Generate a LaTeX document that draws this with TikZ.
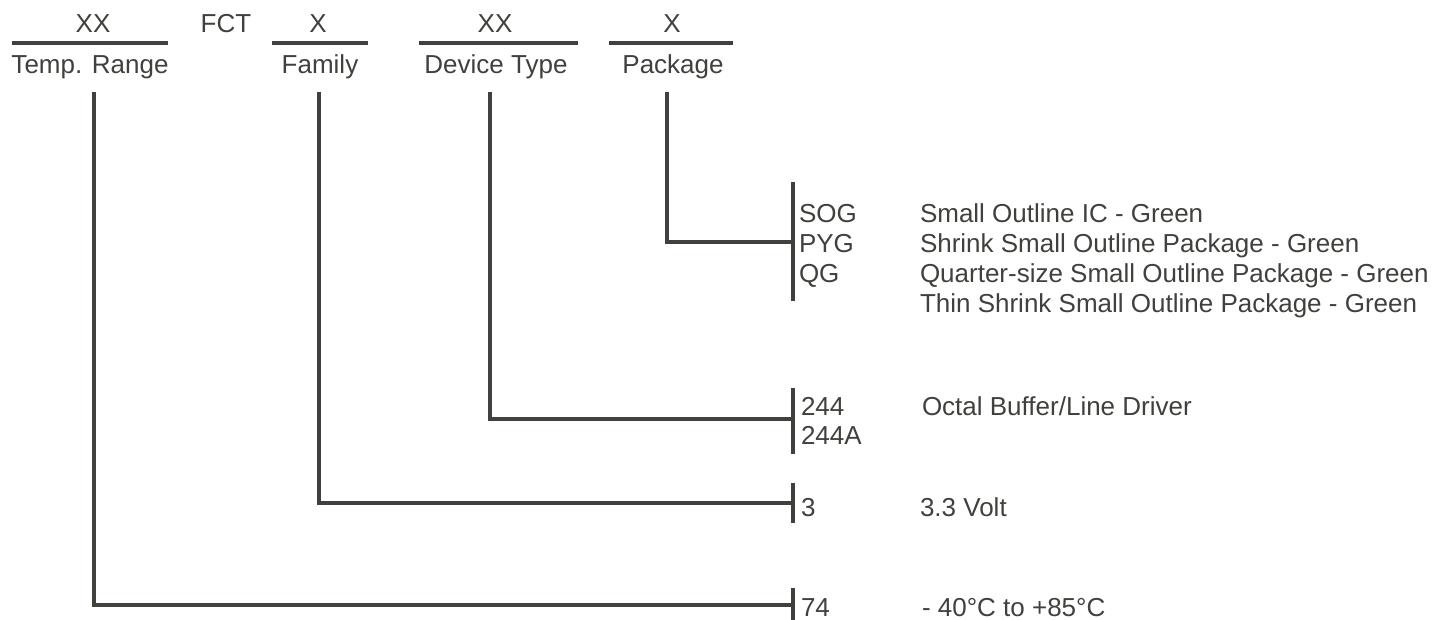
\documentclass[tikz,border=0pt]{standalone}
\usepackage{fontspec}
\setmainfont{Liberation Sans}
\definecolor{ink}{RGB}{64,64,60}
\begin{document}
\begin{tikzpicture}[x=1pt,y=-1pt,
  every node/.style={inner sep=0pt, outer sep=0pt, text=ink, font=\fontsize{26}{30}\selectfont},
  rule/.style={draw=ink, line width=3.3pt, line join=miter},
  lbl/.style={anchor=base},
  code/.style={anchor=base west}]
\useasboundingbox (0,0) rectangle (1432,619);
% top labels
\node[lbl] (xx1) at (93,32) {XX};
\node[lbl] (tr) at (90,73) {Temp. Range};
\node[lbl] (fct) at (226,32) {FCT};
\node[lbl] (x1) at (318,32) {X};
\node[lbl] (fam) at (320,73) {Family};
\node[lbl] (xx2) at (495,32) {XX};
\node[lbl] (dt) at (496,73) {Device Type};
\node[lbl] (x2) at (672,32) {X};
\node[lbl] (pk) at (673,73) {Package};
% underlines
\coordinate (u1a) at (12,43);  \coordinate (u1b) at (168,43);
\coordinate (u2a) at (272,43); \coordinate (u2b) at (368,43);
\coordinate (u3a) at (419,43); \coordinate (u3b) at (578,43);
\coordinate (u4a) at (609,43); \coordinate (u4b) at (733,43);
\draw[rule] (u1a) -- (u1b);
\draw[rule] (u2a) -- (u2b);
\draw[rule] (u3a) -- (u3b);
\draw[rule] (u4a) -- (u4b);
% connector starts
\coordinate (tv) at (94,92);
\coordinate (fv) at (319,92);
\coordinate (dv) at (490,92);
\coordinate (pv) at (667,92);
% bracket points
\coordinate (pb) at (793,242);
\coordinate (db) at (793,419);
\coordinate (fb) at (793,503);
\coordinate (tb) at (793,605);
\coordinate (pbt) at (793,182); \coordinate (pbb) at (793,301);
\coordinate (dbt) at (793,388); \coordinate (dbb) at (793,454);
\coordinate (fbt) at (793,483); \coordinate (fbb) at (793,523);
\coordinate (tbt) at (793,588); \coordinate (tbb) at (793,622);
\draw[rule] (pv) |- (pb);
\draw[rule] (dv) |- (db);
\draw[rule] (fv) |- (fb);
\draw[rule] (tv) |- (tb);
\draw[rule] (pbt) -- (pbb);
\draw[rule] (dbt) -- (dbb);
\draw[rule] (fbt) -- (fbb);
\draw[rule] (tbt) -- (tbb);
% package codes
\node[code] (sog) at (799,222) {SOG};
\node[code] (pyg) at (799,252) {PYG};
\node[code] (qg) at (799,282) {QG};
\node[code] (sogd) at (920,222) {Small Outline IC - Green};
\node[code] (pygd) at (920,252) {Shrink Small Outline Package - Green};
\node[code] (qgd) at (920,282) {Quarter-size Small Outline Package - Green};
\node[code] (thd) at (920,312) {Thin Shrink Small Outline Package - Green};
% device
\node[code] (c244) at (801,415) {244};
\node[code] (c244a) at (801,444) {244A};
\node[code] (c244d) at (922,415) {Octal Buffer/Line Driver};
% family
\node[code] (c3) at (801,516) {3};
\node[code] (c3d) at (920,516) {3.3 Volt};
% temp
\node[code] (c74) at (801,616) {74};
\node[code] (c74d) at (922,616) {- 40°C to +85°C};
\end{tikzpicture}
\end{document}
